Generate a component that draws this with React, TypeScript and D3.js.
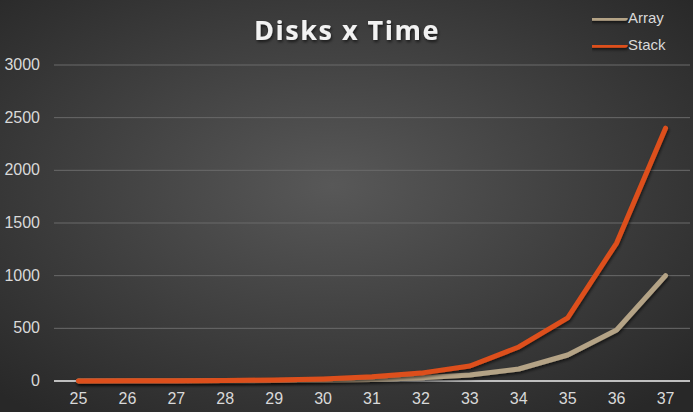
import React, { useEffect, useRef } from "react";
import * as d3 from "d3";

const disks = ["25", "26", "27", "28", "29", "30", "31", "32", "33", "34", "35", "36", "37"];
const arrayTimes = [0.2, 0.5, 1, 2, 4, 7, 15, 30, 57, 114, 247, 484, 1000];
const stackTimes = [0.6, 1.2, 2.5, 5, 10, 20, 40, 75, 142, 323, 600, 1310, 2400];
const yTicks = [0, 500, 1000, 1500, 2000, 2500, 3000];

const series = [
  { name: "Array", values: arrayTimes, color: "#b4a386" },
  { name: "Stack", values: stackTimes, color: "#dd4f1c" },
];

export default function App() {
  const svgRef = useRef<SVGSVGElement>(null);
  const width = 693;
  const height = 412;
  const margin = { top: 65, right: 3, bottom: 31, left: 54 };

  useEffect(() => {
    const svg = d3.select(svgRef.current);
    svg.selectAll("*").remove();

    const defs = svg.append("defs");
    const bg = defs
      .append("radialGradient")
      .attr("id", "bg")
      .attr("cx", "48%")
      .attr("cy", "45%")
      .attr("r", "70%");
    bg.append("stop").attr("offset", "0%").attr("stop-color", "#585858");
    bg.append("stop").attr("offset", "100%").attr("stop-color", "#282828");

    // user-space filter region so flat horizontal lines still render
    const shadow = defs
      .append("filter")
      .attr("id", "shadow")
      .attr("filterUnits", "userSpaceOnUse")
      .attr("x", 0)
      .attr("y", 0)
      .attr("width", width)
      .attr("height", height);
    shadow
      .append("feDropShadow")
      .attr("dx", 1)
      .attr("dy", 2)
      .attr("stdDeviation", 1.5)
      .attr("flood-color", "#000")
      .attr("flood-opacity", 0.6);

    svg.append("rect").attr("width", width).attr("height", height).attr("fill", "url(#bg)");

    // --- Scales ---
    const x = d3
      .scaleBand()
      .domain(disks)
      .range([margin.left, width - margin.right]);

    const y = d3
      .scaleLinear()
      .domain([0, 3000])
      .range([height - margin.bottom, margin.top]);

    const font = "'Liberation Sans Narrow', 'Arial Narrow', 'Liberation Sans', sans-serif";

    // gridlines
    svg
      .append("g")
      .selectAll("line")
      .data(yTicks.filter(d => d > 0))
      .enter()
      .append("line")
      .attr("x1", margin.left)
      .attr("x2", width - margin.right)
      .attr("y1", d => y(d))
      .attr("y2", d => y(d))
      .attr("stroke", "#6a6a6a")
      .attr("stroke-width", 1);

    // y labels
    svg
      .append("g")
      .selectAll("text")
      .data(yTicks)
      .enter()
      .append("text")
      .attr("x", 40)
      .attr("y", d => y(d) + 5)
      .attr("text-anchor", "end")
      .attr("fill", "#d9d9d9")
      .attr("font-family", font)
      .attr("font-size", 16)
      .text(d => d);

    // x axis line
    svg
      .append("line")
      .attr("x1", margin.left)
      .attr("x2", width - margin.right)
      .attr("y1", y(0))
      .attr("y2", y(0))
      .attr("stroke", "#bfbfbf")
      .attr("stroke-width", 2);

    svg
      .append("g")
      .selectAll("text")
      .data(disks)
      .enter()
      .append("text")
      .attr("x", d => (x(d) ?? 0) + x.bandwidth() / 2)
      .attr("y", height - 8)
      .attr("text-anchor", "middle")
      .attr("fill", "#d9d9d9")
      .attr("font-family", font)
      .attr("font-size", 16)
      .text(d => d);

    // --- Lines ---
    const line = d3
      .line<number>()
      .x((_, i) => (x(disks[i]) ?? 0) + x.bandwidth() / 2)
      .y(d => y(d));

    svg
      .append("g")
      .selectAll("path")
      .data(series)
      .enter()
      .append("path")
      .attr("d", d => line(d.values))
      .attr("fill", "none")
      .attr("stroke", d => d.color)
      .attr("stroke-width", 5)
      .attr("stroke-linecap", "round")
      .attr("stroke-linejoin", "round")
      .attr("filter", "url(#shadow)");

    // --- Title ---
    svg
      .append("text")
      .attr("x", 347)
      .attr("y", 40)
      .attr("text-anchor", "middle")
      .attr("fill", "#f2f2f2")
      .attr("font-family", "'Open Sans', 'DejaVu Sans', sans-serif")
      .attr("font-weight", "bold")
      .attr("font-size", 27)
      .attr("letter-spacing", 1.5)
      .attr("filter", "url(#shadow)")
      .text("Disks x Time");

    // --- Legend ---
    const legend = svg
      .append("g")
      .selectAll("g")
      .data(series)
      .enter()
      .append("g")
      .attr("transform", (_, i) => `translate(592,${18 + i * 27})`);

    legend
      .append("path")
      .attr("d", "M0,0H33")
      .attr("stroke", d => d.color)
      .attr("stroke-width", 5.5)
      .attr("stroke-linecap", "round")
      .attr("filter", "url(#shadow)");

    legend
      .append("text")
      .attr("x", 36)
      .attr("y", 5)
      .attr("fill", "#d9d9d9")
      .attr("font-family", font)
      .attr("font-size", 15)
      .text(d => d.name);
  }, []);

  return (
    <svg
      ref={svgRef}
      width={width}
      height={height}
      style={{ position: "absolute", left: 0, top: 0 }}
    ></svg>
  );
}
